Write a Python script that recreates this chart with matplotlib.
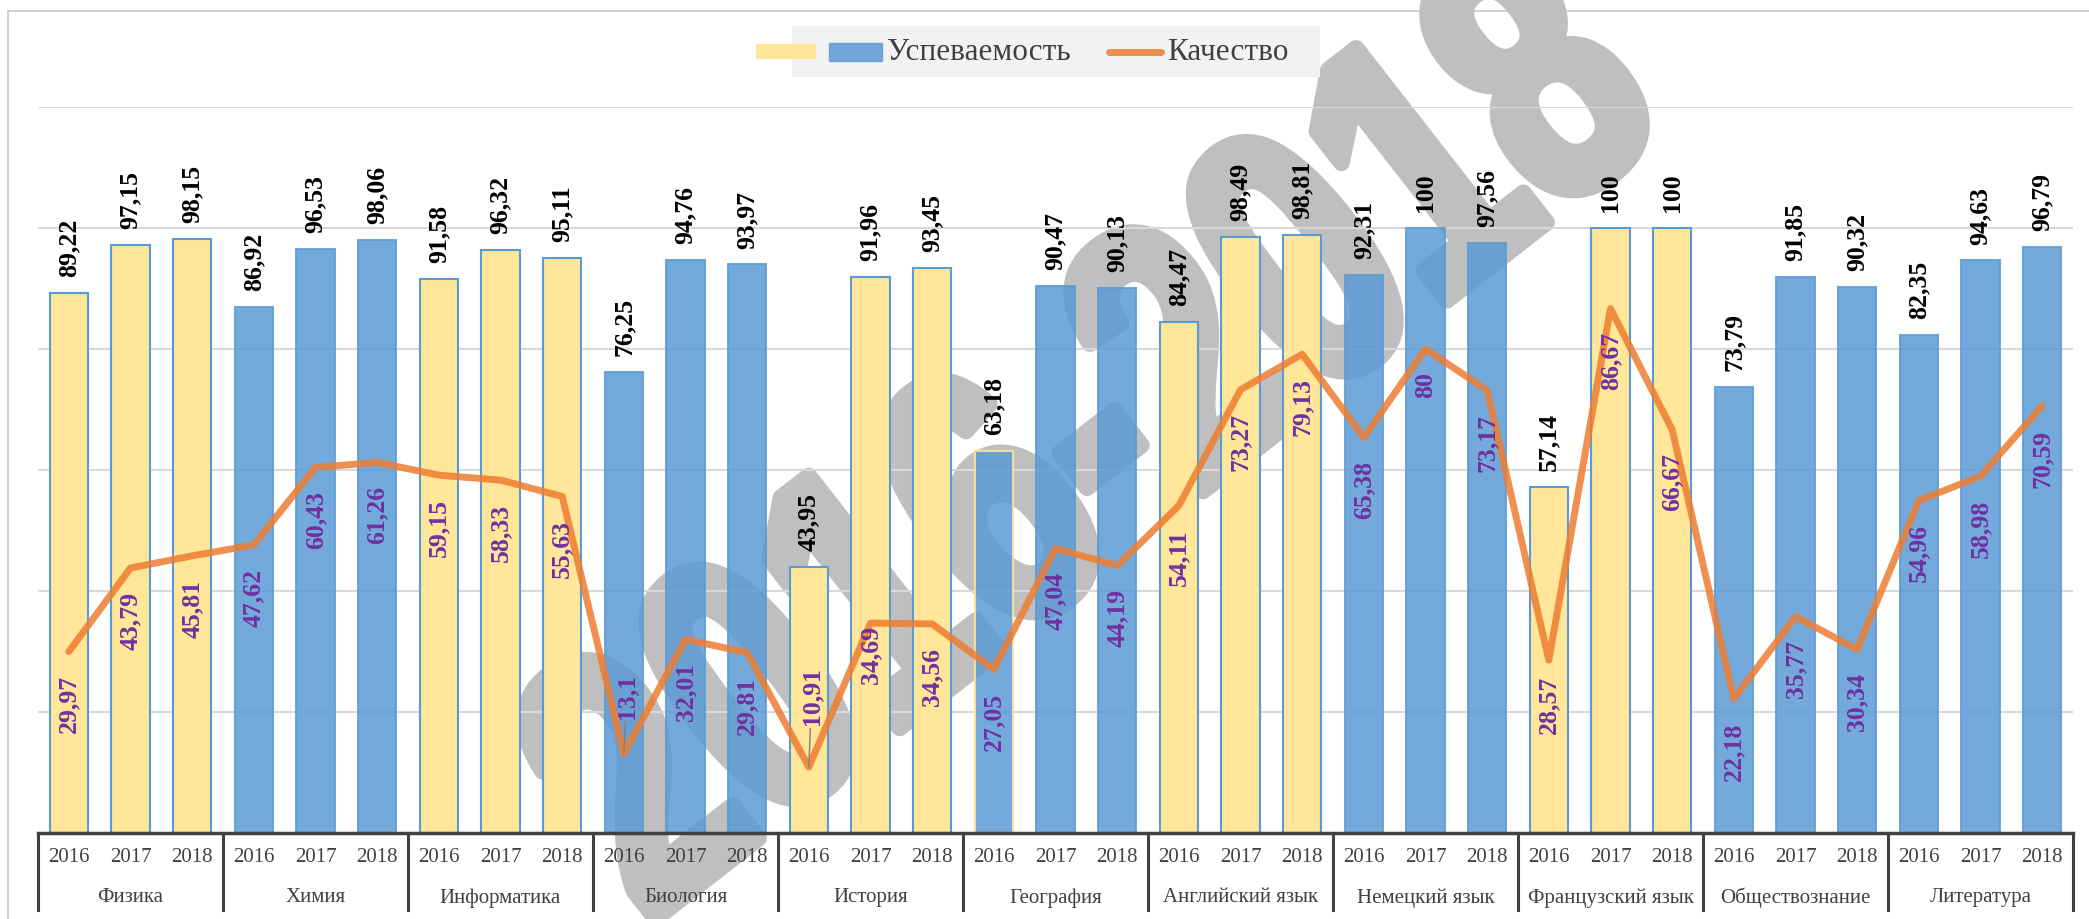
import matplotlib
matplotlib.use('Agg')
import matplotlib.pyplot as plt
import matplotlib.transforms as mtransforms
from matplotlib.patches import Rectangle, PathPatch
from matplotlib.lines import Line2D
from matplotlib.textpath import TextPath
from matplotlib.font_manager import FontProperties

subjects = ['Физика', 'Химия', 'Информатика', 'Биология', 'История', 'География',
            'Английский язык', 'Немецкий язык', 'Французский язык', 'Обществознание',
            'Литература']
years = ['2016', '2017', '2018']

uspev = [89.22, 97.15, 98.15, 86.92, 96.53, 98.06, 91.58, 96.32, 95.11,
         76.25, 94.76, 93.97, 43.95, 91.96, 93.45, 63.18, 90.47, 90.13,
         84.47, 98.49, 98.81, 92.31, 100, 97.56, 57.14, 100, 100,
         73.79, 91.85, 90.32, 82.35, 94.63, 96.79]
kach = [29.97, 43.79, 45.81, 47.62, 60.43, 61.26, 59.15, 58.33, 55.63,
        13.1, 32.01, 29.81, 10.91, 34.69, 34.56, 27.05, 47.04, 44.19,
        54.11, 73.27, 79.13, 65.38, 80, 73.17, 28.57, 86.67, 66.67,
        22.18, 35.77, 30.34, 54.96, 58.98, 70.59]
# bar fill for each subject group
group_fill = ['yellow', 'blue', 'yellow', 'blue', 'yellow', 'blue',
              'yellow', 'blue', 'yellow', 'blue', 'blue']

YELLOW = '#FFE699'
BLUE = '#5B9BD5'
ORANGE = '#ED7D31'
PURPLE = '#7030A0'
TXT = '#404040'

plt.rcParams['font.family'] = ['Liberation Serif', 'DejaVu Serif']

W, H = 2089, 919
fig = plt.figure(figsize=(W / 100, H / 100), dpi=100)
fig.patch.set_facecolor('white')
ax = fig.add_axes([38 / W, 1 - 833 / H, (2073 - 38) / W, (833 - 107) / H])
ax.patch.set_visible(False)

# watermark behind the chart (tall, heavy digits)
tp = TextPath((0, 0), '2016-2018', size=1,
              prop=FontProperties(family='Liberation Sans', weight='bold'))
wm = (mtransforms.Affine2D().translate(-tp.get_extents().x1, 0)
      .scale(370 * 0.734, 370).rotate_deg(38).translate(1665, H - 130))
fig.add_artist(PathPatch(tp, transform=wm, fc='#BFBFBF', ec='#BFBFBF', lw=12,
                         joinstyle='round', zorder=-1))
fig.add_artist(Rectangle((8 / W, -0.05), 1.0, 1 - 11 / H + 0.05,
                         transform=fig.transFigure, fill=False,
                         ec='#D0D0D0', lw=1.5, zorder=-2))

x = list(range(len(uspev)))
fills, edges, alphas = [], [], []
for f in group_fill:
    for j in range(3):
        if f == 'yellow':
            fills.append(YELLOW); edges.append(BLUE); alphas.append(1.0)
        else:
            fills.append(BLUE); edges.append(BLUE); alphas.append(0.85)
bars = ax.bar(x, uspev, width=0.62, color=fills, edgecolor=edges, linewidth=1.5, zorder=2)
for b, a in zip(bars, alphas):
    b.set_alpha(a)
# География 2016 has a yellow outline
bars[15].set_edgecolor(YELLOW)
bars[15].set_alpha(0.85)

ax.plot(x, kach, color=ORANGE, lw=5, alpha=0.85, zorder=3, solid_capstyle='round')

for xi, v in zip(x, uspev):
    ax.annotate(f'{v:g}'.replace('.', ','), (xi, v), xytext=(0, 11.5),
                textcoords='offset points', rotation=90, ha='center', va='bottom',
                fontsize=18.5, fontweight='bold', color='black', zorder=5)

above = {9: 25, 12: 30}      # labels moved above the point with a leader line
below = {13: -2, 24: -11}    # labels placed closer to the point
for i, (xi, v) in enumerate(zip(x, kach)):
    s = f'{v:g}'.replace('.', ',')
    if i in above:
        ax.annotate(s, (xi, v), xytext=(2, above[i]), textcoords='offset points',
                    rotation=90, ha='center', va='bottom', fontsize=18.5,
                    fontweight='bold', color=PURPLE, zorder=5,
                    arrowprops=dict(arrowstyle='-', color='#7F7F7F', lw=1,
                                    shrinkA=0, shrinkB=0))
    else:
        ax.annotate(s, (xi, v), xytext=(0, below.get(i, -17)), textcoords='offset points',
                    rotation=90, ha='center', va='top', fontsize=18.5,
                    fontweight='bold', color=PURPLE, zorder=5)

ax.set_xlim(-0.5, len(x) - 0.5)
ax.set_ylim(0, 120)
ax.set_yticks([20, 40, 60, 80, 100, 120])
ax.tick_params(axis='y', length=0, labelleft=False)
ax.yaxis.grid(True, color='#D9D9D9', lw=1.5)
ax.set_axisbelow(True)
for s in ['top', 'left', 'right']:
    ax.spines[s].set_visible(False)
ax.spines['bottom'].set_color(TXT)
ax.spines['bottom'].set_linewidth(2.5)
ax.spines['bottom'].set_zorder(4)

ax.set_xticks(x)
ax.set_xticklabels(years * len(subjects), fontsize=15, color=TXT)
ax.tick_params(axis='x', length=0, pad=11)

trans = mtransforms.blended_transform_factory(ax.transData, ax.transAxes)
for g, name in enumerate(subjects):
    ax.text(3 * g + 1, -0.0895, name, transform=trans, ha='center', va='center',
            fontsize=15, color=TXT)
for g in range(len(subjects) + 1):
    ax.plot([3 * g - 0.5, 3 * g - 0.5], [0, -0.106], transform=trans,
            clip_on=False, color=TXT, lw=2.2, zorder=4)

# legend, drawn by hand: yellow swatch sits left of the grey legend box
def px(xp, yp):
    return xp / W, 1 - yp / H

fig.add_artist(Rectangle(px(792, 77), 528 / W, 51 / H, transform=fig.transFigure,
                         fc='#F2F2F2', ec='none', zorder=1))
fig.add_artist(Rectangle(px(756, 59), 60 / W, 15 / H, transform=fig.transFigure,
                         fc=YELLOW, ec='none', zorder=2))
fig.add_artist(Rectangle(px(829, 61), 53 / W, 18 / H, transform=fig.transFigure,
                         fc=BLUE, ec=BLUE, alpha=0.85, zorder=2))
fig.text(*px(887, 52), 'Успеваемость', fontsize=22.5, color=TXT, va='center', ha='left')
fig.add_artist(Line2D([1109 / W, 1161 / W], [1 - 52 / H, 1 - 52 / H],
                      transform=fig.transFigure, color=ORANGE, lw=5, alpha=0.85,
                      solid_capstyle='round', zorder=2))
fig.text(*px(1167, 52), 'Качество', fontsize=22.5, color=TXT, va='center', ha='left')

fig.savefig('out.png', dpi=100)
